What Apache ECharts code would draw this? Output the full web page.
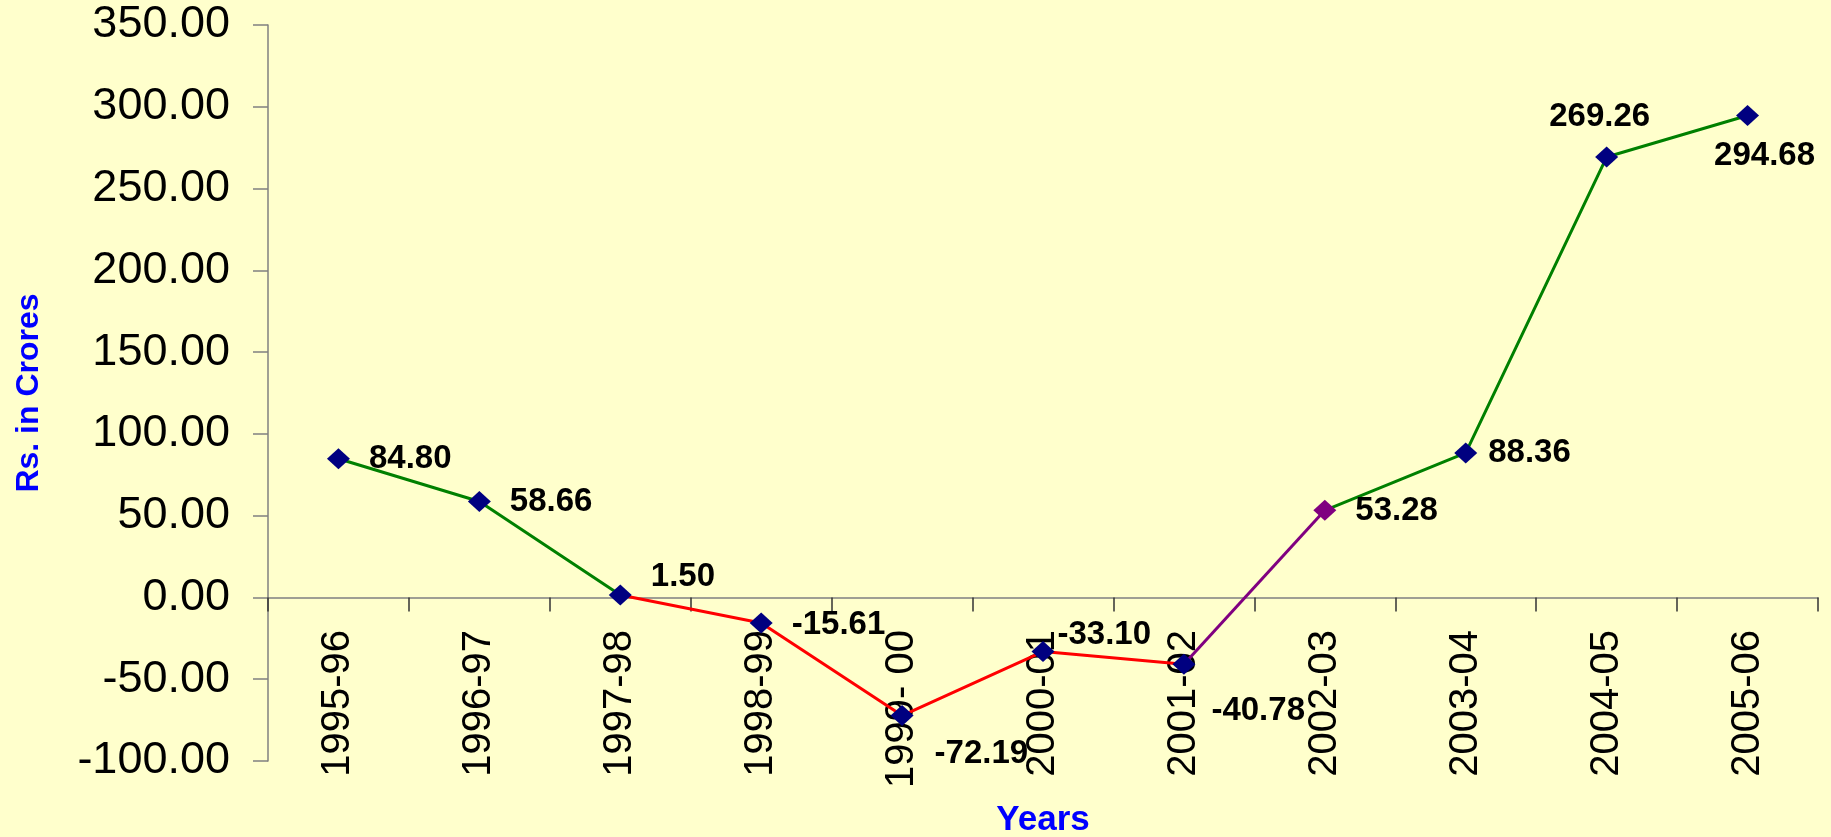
<!DOCTYPE html>
<html>
<head>
<meta charset="utf-8">
<title>Rs. in Crores by Year</title>
<script src="https://cdn.jsdelivr.net/npm/echarts@6/dist/echarts.min.js"></script>
<style>
  html, body { margin: 0; padding: 0; background: #FFFFCC; }
  #chart { width: 1831px; height: 837px; }
</style>
</head>
<body>
<div id="chart"></div>
<script>
// Financial years on the category axis
const categories = ['1995-96', '1996-97', '1997-98', '1998-99', '1999- 00', '2000-01',
                    '2001-02', '2002-03', '2003-04', '2004-05', '2005-06'];

// Amount for each year (Rs. in Crores)
const values = [84.80, 58.66, 1.50, -15.61, -72.19, -33.10, -40.78, 53.28, 88.36, 269.26, 294.68];

// Value axis range and step
const yMin = -100;
const yMax = 350;
const yStep = 50;

// Line pieces: each joins the points from index `from` to index `to`
const segments = [
  { from: 0, to: 2, color: '#008000' },
  { from: 2, to: 6, color: '#FF0000' },
  { from: 6, to: 7, color: '#800080' },
  { from: 7, to: 10, color: '#008000' }
];

// Marker colour per point
const markerColors = ['#000080', '#000080', '#000080', '#000080', '#000080', '#000080',
                      '#000080', '#800080', '#000080', '#000080', '#000080'];

// Where each value label sits next to its marker
const labelPlacement = [
  { position: 'right', offset: [14, 0] },
  { position: 'right', offset: [14, 0] },
  { position: 'right', offset: [14, -18] },
  { position: 'right', offset: [14, 2] },
  { position: 'right', offset: [16, 38] },
  { position: 'right', offset: [-2, -17] },
  { position: 'right', offset: [11, 47] },
  { position: 'right', offset: [14, 1] },
  { position: 'right', offset: [6, 0] },
  { position: 'top', offset: [-7, -8] },
  { position: 'bottom', offset: [17, 8] }
];

const FONT = '"Liberation Sans", Arial, sans-serif';
const AXIS_COLOR = '#808080';

const lineSeries = segments.map(function (seg) {
  return {
    type: 'line',
    data: values.map(function (v, i) { return (i >= seg.from && i <= seg.to) ? v : null; }),
    showSymbol: false,
    symbol: 'none',
    connectNulls: false,
    silent: true,
    lineStyle: { color: seg.color, width: 3 },
    z: 2
  };
});

const markerSeries = {
  type: 'line',
  data: values.map(function (v, i) {
    return {
      value: v,
      itemStyle: { color: markerColors[i] },
      label: {
        position: labelPlacement[i].position,
        offset: labelPlacement[i].offset
      }
    };
  }),
  symbol: 'diamond',
  symbolSize: [23, 21],
  showAllSymbol: true,
  lineStyle: { opacity: 0, width: 0 },
  label: {
    show: true,
    fontFamily: FONT,
    fontWeight: 'bold',
    fontSize: 33,
    color: '#000000',
    formatter: function (p) { return Number(p.value).toFixed(2); }
  },
  z: 3
};

const chart = echarts.init(document.getElementById('chart'));
chart.setOption({
  backgroundColor: '#FFFFCC',
  animation: false,
  grid: { left: 268, right: 13, top: 25, bottom: 76, containLabel: false, outerBoundsMode: 'none' },
  xAxis: {
    type: 'category',
    data: categories,
    boundaryGap: true,
    name: 'Years',
    nameLocation: 'middle',
    nameGap: 42,
    nameTextStyle: { color: '#0000FF', fontFamily: FONT, fontWeight: 'bold', fontSize: 35 },
    axisLine: { onZero: true, lineStyle: { color: AXIS_COLOR, width: 1.5 } },
    axisTick: { show: true, length: 14, interval: 0, alignWithLabel: false, lineStyle: { color: '#333333', width: 1.5 } },
    axisLabel: {
      interval: 0,
      rotate: 90,
      // labels hang just under the zero line, which sits above the plot's bottom edge
      margin: -131,
      fontFamily: FONT,
      fontSize: 40,
      color: '#000000'
    },
    splitLine: { show: false }
  },
  yAxis: {
    type: 'value',
    min: yMin,
    max: yMax,
    interval: yStep,
    name: 'Rs. in Crores',
    nameLocation: 'middle',
    nameGap: 223,
    nameTextStyle: { color: '#0000FF', fontFamily: FONT, fontWeight: 'bold', fontSize: 32 },
    axisLine: { show: true, lineStyle: { color: AXIS_COLOR, width: 1.5 } },
    axisTick: { show: true, length: 15, lineStyle: { color: AXIS_COLOR, width: 1.5 } },
    axisLabel: {
      margin: 38,
      fontFamily: FONT,
      fontSize: 45,
      color: '#000000',
      formatter: function (v) { return v.toFixed(2); }
    },
    splitLine: { show: false }
  },
  series: lineSeries.concat([markerSeries])
});
</script>
</body>
</html>
